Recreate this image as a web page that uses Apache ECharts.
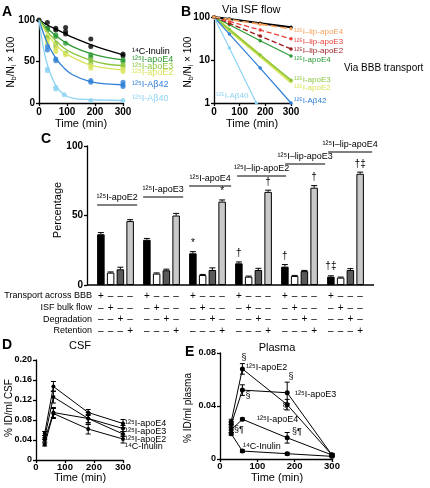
<!DOCTYPE html>
<html><head><meta charset="utf-8">
<script src="https://cdn.jsdelivr.net/npm/echarts@6/dist/echarts.min.js"></script>
<style>html,body{margin:0;padding:0;background:#fff}#c{width:430px;height:488px}</style>
</head><body><div id="c"></div><script>
const F = "'Liberation Sans', Arial, Helvetica, sans-serif";

// ---------- Panel A (fraction remaining, linear) ----------
const fitTimes = [0, 15, 30, 60, 90, 120, 180, 240, 300];
const fitInulin = [100, 97, 94, 89, 84, 79, 71, 64, 58];
const fitApoE4  = [100, 95, 90, 81, 74, 68, 60, 55, 52];
const fitApoE3  = [100, 93, 86, 75, 66, 60, 52, 47, 45];
const fitApoE2  = [100, 91, 83, 70, 61, 55, 46, 42, 40];
const fitAb42   = [100, 85, 72, 54, 42, 34, 26, 23, 22];
const fitAb40   = [100, 68, 46, 21, 10, 6, 4, 3.5, 3];
const ptsInulin = [[0,100],[30,97],[30,90],[60,90],[60,88],[95,91],[95,86],[95,83],[185,77],[185,68],[300,59],[300,57]];
const ptsApoE4  = [[30,90],[30,88],[60,82],[60,80],[95,72],[185,58],[185,55],[300,52],[300,50]];
const ptsApoE3  = [[30,80],[30,78],[60,72],[60,68],[95,60],[185,52],[185,48],[300,46],[300,44]];
const ptsApoE2  = [[30,76],[30,72],[60,65],[60,62],[95,58],[185,45],[185,42],[300,41],[300,38]];
const ptsAb42   = [[30,68],[30,64],[60,53],[60,51],[185,27],[185,25],[300,25],[300,22],[300,20]];
const ptsAb40   = [[30,41],[30,39],[60,19],[60,17],[90,10],[185,3],[300,3]];

// ---------- Panel B (log scale) ----------
const bTimes  = [0, 60, 180, 300];
const bInulin = [100, 90, 72, 58];
const bLipE4  = [100, 88, 68, 53];
const bLipE3  = [100, 79, 50, 31];
const bLipE2  = [100, 71, 36, 18];
const bApoE4  = [100, 66, 28, 12.4];
const bApoE3  = [100, 51, 13, 3.4];
const bApoE2  = [100, 50, 12.5, 3.1];
const bAb42   = [100, 40, 6.5, 1];
const bAb40Times = [0, 60, 165];
const bAb40   = [100, 19, 1];

// ---------- Panel C (percentages) ----------
const groupsC = ['¹²⁵I-apoE2','¹²⁵I-apoE3','¹²⁵I-apoE4','¹²⁵I–lip-apoE2','¹²⁵I–lip-apoE3','¹²⁵I–lip-apoE4'];
const cBBB   = [36.5, 32.5, 22.8, 15.6, 13.2, 6.0];
const cISF   = [8.9, 8.2, 7.2, 6.0, 6.5, 5.3];
const cDegr  = [11.3, 10.6, 10.8, 10.8, 10.0, 10.8];
const cRet   = [46, 50, 60, 67, 70, 80];
const eBBB   = [1.2, 1.0, 1.2, 1.0, 1.5, 0.6];
const eISF   = [0.5, 0.5, 0.4, 0.4, 0.4, 0.4];
const eDegr  = [1.5, 0.8, 1.5, 1.2, 0.5, 1.0];
const eRet   = [1.0, 1.5, 1.2, 1.2, 1.5, 1.2];
const sigBBB = ['', '', '*', '†', '†', '†‡'];
const sigRet = ['', '', '*', '†', '†', '†‡'];
const rowLabels = ['Transport across BBB', 'ISF bulk flow', 'Degradation', 'Retention'];

// ---------- Panel D (CSF) ----------
const dTimes  = [30, 60, 180, 300];
const dApoE4  = [0.053, 0.147, 0.095, 0.073];
const dApoE3  = [0.045, 0.126, 0.083, 0.063];
const dApoE2  = [0.040, 0.095, 0.083, 0.052];
const dInulin = [0.031, 0.093, 0.062, 0.042];
const dErrE4  = [0.004, 0.010, 0.006, 0.008];
const dErrE3  = [0.004, 0.012, 0.008, 0.006];
const dErrE2  = [0.004, 0.010, 0.012, 0.005];
const dErrIn  = [0.003, 0.010, 0.010, 0.008];

// ---------- Panel E (plasma) ----------
const eTimes  = [30, 60, 180, 300];
const eApoE2  = [0.028, 0.068, 0.041, 0.003];
const eApoE3  = [0.026, 0.052, 0.050, 0.003];
const eApoE4  = [0.022, 0.030, 0.016, 0.003];
const eInulin = [0.019, 0.006, 0.004, 0.002];
const eErrE2  = [0.002, 0.004, 0.004, 0.001];
const eErrE3  = [0.002, 0.004, 0.008, 0.001];
const eErrE4  = [0.002, 0.001, 0.004, 0.001];
const eErrIn  = [0.001, 0.001, 0.001, 0.001];

// colours
const C_IN = '#000000', C_E4 = '#2e9a36', C_E3 = '#8cc63f', C_E2 = '#d9e45a',
      C_A42 = '#2f7fd6', C_A40 = '#8dd3f3', C_L4 = '#f5a25d', C_L3 = '#e8413c', C_L2 = '#9c1c1f';

const zip = (t, v) => t.map((x, i) => [x, v[i]]);
const zip3 = (t, v, e) => t.map((x, i) => [x, v[i], e[i]]);

function axis(extra, lblSize, margin) {
  const a = {
    axisLine: {show: true, onZero: false, lineStyle: {color: '#000', width: 1.3}},
    axisTick: {show: true, length: 3, lineStyle: {color: '#000', width: 1.3}},
    axisLabel: {color: '#000', fontSize: lblSize || 10, fontWeight: 'bold', fontFamily: F, margin: margin || 4},
    splitLine: {show: false}
  };
  return Object.assign(a, extra);
}

const chart = echarts.init(document.getElementById('c'));

function errXY(params, api) {
  const x = api.value(0), v = api.value(1), e = api.value(2);
  const lo = api.coord([x, v - e]), hi = api.coord([x, v + e]);
  const px = lo[0];
  const st = {stroke: '#000', lineWidth: 1};
  return {type: 'group', children: [
    {type: 'line', shape: {x1: px, y1: lo[1], x2: px, y2: hi[1]}, style: st},
    {type: 'line', shape: {x1: px - 2.5, y1: lo[1], x2: px + 2.5, y2: lo[1]}, style: st},
    {type: 'line', shape: {x1: px - 2.5, y1: hi[1], x2: px + 2.5, y2: hi[1]}, style: st}
  ]};
}
const BW = 7.5, BG = 0.3;
const barOff = i => -(4 * BW + 3 * BG * BW) / 2 + BW / 2 + i * BW * (1 + BG);
function errBar(params, api) {
  const cat = api.value(0), v = api.value(1), e = api.value(2), bi = api.value(3);
  const c = api.coord([cat, v]), t = api.coord([cat, v + e]);
  const x = c[0] + barOff(bi);
  const st = {stroke: '#000', lineWidth: 1};
  return {type: 'group', children: [
    {type: 'line', shape: {x1: x, y1: c[1], x2: x, y2: t[1]}, style: st},
    {type: 'line', shape: {x1: x - 3, y1: t[1], x2: x + 3, y2: t[1]}, style: st}
  ]};
}

const series = [];
// Panel A
[[fitInulin, ptsInulin, C_IN], [fitApoE4, ptsApoE4, C_E4], [fitApoE3, ptsApoE3, C_E3],
 [fitApoE2, ptsApoE2, C_E2], [fitAb42, ptsAb42, C_A42], [fitAb40, ptsAb40, C_A40]].forEach(([fit, pts, col]) => {
  series.push({type: 'line', xAxisIndex: 0, yAxisIndex: 0, data: zip(fitTimes, fit), smooth: 0.4,
    showSymbol: false, lineStyle: {color: col, width: 1.3}, silent: true});
  series.push({type: 'scatter', xAxisIndex: 0, yAxisIndex: 0, data: pts, symbolSize: 5,
    itemStyle: {color: col}});
});
// Panel B
[[bTimes, bApoE2, C_E2, 'solid', 3.2], [bTimes, bApoE3, C_E3, 'solid', 1.5], [bTimes, bApoE4, C_E4, 'solid', 1.2],
 [bTimes, bAb42, C_A42, 'solid', 1.2], [bAb40Times, bAb40, C_A40, 'solid', 1.2],
 [bTimes, bLipE2, C_L2, 'dashed', 1.3], [bTimes, bLipE3, C_L3, 'dashed', 1.3],
 [bTimes, bInulin, C_IN, 'solid', 2], [bTimes, bLipE4, C_L4, 'dashed', 1.6]].forEach(([t, v, col, ty, w]) => {
  series.push({type: 'line', xAxisIndex: 1, yAxisIndex: 1, data: zip(t, v), symbol: 'circle', symbolSize: 3.5,
    lineStyle: {color: col, width: w, type: ty}, itemStyle: {color: col}});
});
// Panel C bars
[[cBBB, eBBB, '#000', sigBBB], [cISF, eISF, '#fff', null], [cDegr, eDegr, '#5a5a5a', null], [cRet, eRet, '#c9c9c9', sigRet]]
.forEach(([vals, errs, col, sig], bi) => {
  series.push({type: 'bar', xAxisIndex: 2, yAxisIndex: 2, data: vals, barWidth: BW, barGap: (BG * 100) + '%',
    itemStyle: {color: col, borderColor: '#000', borderWidth: 1},
    label: sig ? {show: true, position: 'top', distance: 5, fontSize: 10, fontFamily: F, color: '#000',
      formatter: p => sig[p.dataIndex]} : {show: false}});
  series.push({type: 'custom', xAxisIndex: 2, yAxisIndex: 2, renderItem: errBar, z: 5,
    data: vals.map((v, k) => [k, v, errs[k], bi])});
});
// Panel D
[[dApoE4, dErrE4], [dApoE3, dErrE3], [dApoE2, dErrE2], [dInulin, dErrIn]].forEach(([v, e]) => {
  series.push({type: 'line', xAxisIndex: 3, yAxisIndex: 3, data: zip(dTimes, v), symbol: 'circle', symbolSize: 4,
    lineStyle: {color: '#000', width: 1}, itemStyle: {color: '#000'}});
  series.push({type: 'custom', xAxisIndex: 3, yAxisIndex: 3, renderItem: errXY, data: zip3(dTimes, v, e)});
});
// Panel E
[[eApoE2, eErrE2], [eApoE3, eErrE3], [eApoE4, eErrE4], [eInulin, eErrIn]].forEach(([v, e]) => {
  series.push({type: 'line', xAxisIndex: 4, yAxisIndex: 4, data: zip(eTimes, v), symbol: 'circle', symbolSize: 5,
    lineStyle: {color: '#000', width: 1}, itemStyle: {color: '#000'}});
  series.push({type: 'custom', xAxisIndex: 4, yAxisIndex: 4, renderItem: errXY, data: zip3(eTimes, v, e)});
});

const decFmt = v => v === 0 ? '0' : v.toFixed(2);
chart.setOption({
  animation: false,
  backgroundColor: '#fff',
  grid: [
    {left: 39, top: 20, width: 84, height: 83},
    {left: 214, top: 17, width: 77, height: 86},
    {left: 92.5, top: 146, width: 276, height: 139},
    {left: 36, top: 360, width: 87, height: 100},
    {left: 220, top: 353, width: 112, height: 106}
  ],
  xAxis: [
    axis({type: 'value', gridIndex: 0, min: 0, max: 300, interval: 100}),
    axis({type: 'value', gridIndex: 1, min: 0, max: 300, interval: 100}),
    {type: 'category', gridIndex: 2, data: groupsC, axisTick: {show: false}, axisLabel: {show: false},
      axisLine: {show: false}},
    axis({type: 'value', gridIndex: 3, min: 0, max: 300, interval: 100}, 9.5, 2),
    axis({type: 'value', gridIndex: 4, min: 0, max: 300, interval: 100}, 9.5, 2)
  ],
  yAxis: [
    axis({type: 'value', gridIndex: 0, min: 0, max: 100, interval: 50}),
    axis({type: 'log', gridIndex: 1, min: 1, max: 100, logBase: 10}),
    axis({type: 'value', gridIndex: 2, min: 0, max: 100, interval: 50, offset: 5.5}),
    axis({type: 'value', gridIndex: 3, min: 0, max: 0.2, interval: 0.04,
      axisLabel: {color: '#000', fontSize: 9, fontWeight: 'bold', fontFamily: F, margin: 4, formatter: decFmt}}),
    axis({type: 'value', gridIndex: 4, min: 0, max: 0.08, interval: 0.04,
      axisLabel: {color: '#000', fontSize: 9, fontWeight: 'bold', fontFamily: F, margin: 4, formatter: decFmt}})
  ],
  series
});

function txt(text, x, y, o) {
  o = o || {};
  return {type: 'text', x, y, rotation: o.rot || 0, z: 100, silent: true,
    style: {text, fill: o.color || '#000', fontSize: o.size || 9, fontWeight: o.weight || 'normal', fontFamily: F,
      align: o.align || 'left', verticalAlign: 'middle', rich: o.rich}};
}
const subRich = {s: {fontSize: 7, fontFamily: F, padding: [6, 0, 0, 0]}};
const g = [];
// panel letters
g.push(txt('A', 2, 12, {size: 14, weight: 'bold'}));
g.push(txt('B', 181, 12, {size: 14, weight: 'bold'}));
g.push(txt('C', 41, 139, {size: 14, weight: 'bold'}));
g.push(txt('D', 2, 345, {size: 14, weight: 'bold'}));
g.push(txt('E', 185, 352, {size: 14, weight: 'bold'}));
// A
g.push(txt('N{s|b}/N{s|i} × 100', 11, 62, {size: 10, align: 'center', rot: Math.PI / 2, rich: subRich}));
g.push(txt('Time (min)', 81, 124, {size: 11, align: 'center'}));
g.push(txt('¹⁴C-Inulin', 132, 52, {color: C_IN}));
g.push(txt('¹²⁵I-apoE4', 132, 60, {color: C_E4}));
g.push(txt('¹²⁵I-apoE3', 132, 66.5, {color: C_E3}));
g.push(txt('¹²⁵I-apoE2', 132, 73, {color: C_E2}));
g.push(txt('¹²⁵I-Aβ42', 132, 85, {color: C_A42}));
g.push(txt('¹²⁵I-Aβ40', 132, 99, {color: C_A40}));
// B
g.push(txt('N{s|b}/N{s|i} × 100', 188, 62, {size: 10, align: 'center', rot: Math.PI / 2, rich: subRich}));
g.push(txt('Time (min)', 252, 124, {size: 11, align: 'center'}));
g.push(txt('Via ISF flow', 222, 10, {size: 11}));
g.push(txt('Via BBB transport', 344, 68, {size: 10}));
g.push(txt('¹²⁵I–lip-apoE4', 294, 32, {size: 8, color: C_L4}));
g.push(txt('¹²⁵I–lip-apoE3', 294, 41.5, {size: 8, color: C_L3}));
g.push(txt('¹²⁵I–lip-apoE2', 294, 51, {size: 8, color: C_L2}));
g.push(txt('¹²⁵I-apoE4', 294, 60, {size: 8, color: C_E4}));
g.push(txt('¹²⁵I-apoE3', 294, 80, {size: 8, color: C_E3}));
g.push(txt('¹²⁵I-apoE2', 294, 88, {size: 8, color: C_E2}));
g.push(txt('¹²⁵I-Aβ42', 294, 101, {size: 8, color: C_A42}));
g.push(txt('¹²⁵I-Aβ40', 216, 96, {size: 8, color: C_A40}));
// C
const yAxX = chart.convertToPixel({gridIndex: 2}, [0, 0]);
const baseY = yAxX[1];
g.push({type: 'line', z: 50, silent: true, shape: {x1: 87, y1: baseY, x2: 374, y2: baseY},
  style: {stroke: '#000', lineWidth: 1.3}});
g.push(txt('Percentage', 58, 210, {size: 11, align: 'center', rot: Math.PI / 2}));
const rowY = [296, 308, 319.5, 331];
rowLabels.forEach((r, i) => g.push(txt(r, 92, rowY[i], {size: 9, align: 'right'})));
const grpTextY = [198, 190, 179, 169, 157, 145];
const grpLineY = [205, 197, 186, 176, 164, 152];
const grpShift = [0, 0, 0, 2, 4, 1];
const grpLen   = [40, 40, 42, 49, 40, 44];
groupsC.forEach((name, k) => {
  const cx = chart.convertToPixel({xAxisIndex: 2}, k);
  const left = cx + barOff(0) - BW / 2 + grpShift[k];
  const mx = left + grpLen[k] / 2;
  g.push(txt(name, mx, grpTextY[k], {size: 9, align: 'center'}));
  g.push({type: 'line', z: 100, silent: true, shape: {x1: left, y1: grpLineY[k], x2: left + grpLen[k], y2: grpLineY[k]},
    style: {stroke: '#000', lineWidth: 1}});
  for (let r = 0; r < 4; r++) {
    for (let i = 0; i < 4; i++) {
      g.push(txt(i === r ? '+' : '–', cx + barOff(i), rowY[r], {size: 10, align: 'center'}));
    }
  }
});
// D
g.push(txt('CSF', 80, 346, {size: 11, align: 'center'}));
g.push(txt('% ID/ml CSF', 9, 408, {size: 10, align: 'center', rot: Math.PI / 2}));
g.push(txt('Time (min)', 80, 478, {size: 11, align: 'center'}));
g.push(txt('¹²⁵I-apoE4', 125, 424, {size: 9}));
g.push(txt('¹²⁵I-apoE3', 125, 432, {size: 9}));
g.push(txt('¹²⁵I-apoE2', 125, 439.5, {size: 9}));
g.push(txt('¹⁴C-Inulin', 125, 447, {size: 9}));
// E
g.push(txt('Plasma', 277, 348, {size: 11, align: 'center'}));
g.push(txt('% ID/ml plasma', 188, 408, {size: 10, align: 'center', rot: Math.PI / 2}));
g.push(txt('Time (min)', 277, 478, {size: 11, align: 'center'}));
g.push(txt('¹²⁵I-apoE2', 246, 368, {size: 9}));
g.push(txt('¹²⁵I-apoE3', 295, 395, {size: 9}));
g.push(txt('¹²⁵I-apoE4', 257, 420, {size: 9}));
g.push(txt('¹⁴C-Inulin', 243, 447, {size: 9}));
g.push(txt('§', 244, 358, {size: 9, align: 'center'}));
g.push(txt('§', 291, 377, {size: 9, align: 'center'}));
g.push(txt('§', 248, 396, {size: 9, align: 'center'}));
g.push(txt('§', 285, 407, {size: 9, align: 'center'}));
g.push(txt('§¶', 239, 430, {size: 9, align: 'center'}));
g.push(txt('§¶', 297, 432, {size: 9, align: 'center'}));

chart.setOption({graphic: g});
</script></body></html>
